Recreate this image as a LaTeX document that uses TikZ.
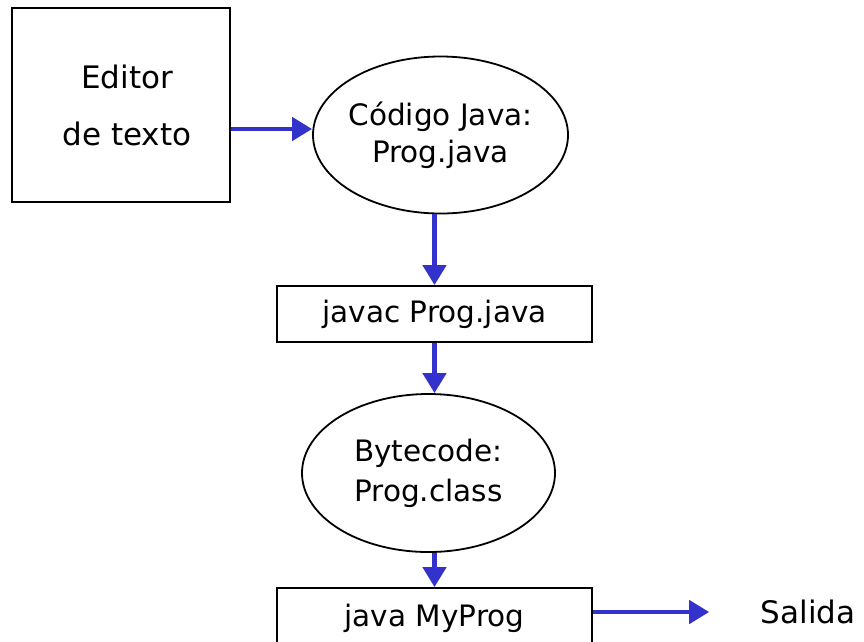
\documentclass[tikz,border=0pt]{standalone}
\usepackage{fontspec}
\setmainfont{DejaVu Sans}
\usetikzlibrary{shapes.geometric,arrows.meta}
\definecolor{flowblue}{RGB}{51,51,204}
\begin{document}
\begin{tikzpicture}[x=1pt, y=-1pt,
        every node/.style={font=\fontsize{29.5}{37}\selectfont, align=center},
        big/.style={font=\fontsize{31}{38}\selectfont},
        box/.style={draw, line width=1.8pt, inner sep=0pt},
        oval/.style={draw, ellipse, line width=1.8pt, inner sep=-30pt},
        flow/.style={draw=flowblue, line width=4.5pt, -{Triangle[length=20pt,width=23pt]}}]
        \useasboundingbox (0,0) rectangle (864,641);

        % Editor
        \node[box, big, minimum width=218pt, minimum height=194pt] (editor) at (121,105) {\hspace*{12pt}Editor\\[19pt]\hspace*{12pt}de texto};

        % Codigo fuente
        \node[oval, minimum width=255pt, minimum height=157pt] (code) at (440.5,135) {Código Java:\\Prog.java};

        % Compilador
        \node[box, minimum width=315pt, minimum height=56pt] (javac) at (434.5,314) {javac Prog.java};

        % Bytecode
        \node[oval, minimum width=253pt, minimum height=158pt] (bytecode) at (428.5,473) {Bytecode:\\[3pt]Prog.class};

        % Maquina virtual (se corta abajo)
        \node[box, minimum width=315pt, minimum height=60pt] (java) at (434.5,618) {java MyProg};

        % Salida
        \node[big] (salida) at (808,612) {Salida};

        % Flechas
        \draw[flow] ([yshift=-24pt]editor.east) -- ([yshift=-24pt]editor.east -| code.west);
        \draw[flow] (code.south -| javac.north) -- (javac.north);
        \draw[flow] (javac.south) -- (javac.south |- bytecode.north);
        \draw[flow] (bytecode.south -| java.north) -- (java.north);
        \draw[flow, shorten >=48pt] ([yshift=6pt]java.east) -- ([yshift=6pt]java.east -| salida.west);
    \end{tikzpicture}
\end{document}
